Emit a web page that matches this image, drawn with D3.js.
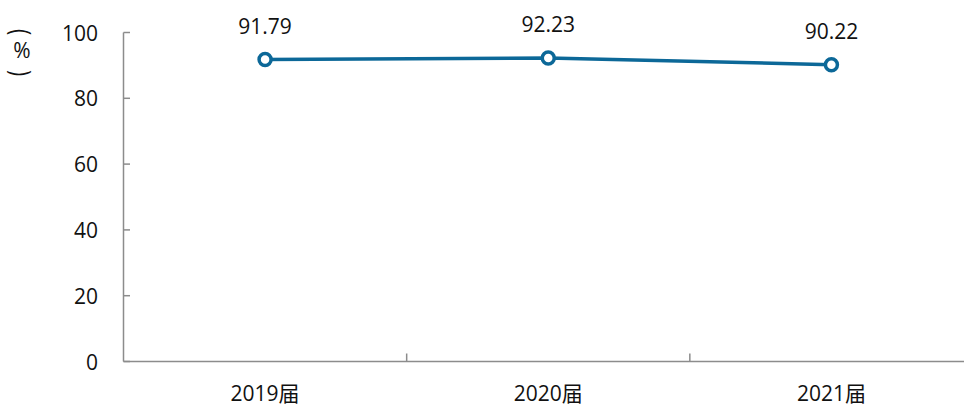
<html>
<head>
<style>
  body { margin: 0; background: #fff; }
  svg { display: block; font-family: "Open Sans", "Noto Sans CJK SC", sans-serif; }
</style>
<script src="https://cdn.jsdelivr.net/npm/d3@7"></script>
</head>
<body>
<svg id="chart"></svg>
<script>
// data
const years = ["2019届", "2020届", "2021届"];
const rates = [91.79, 92.23, 90.22];
const yTicks = [0, 20, 40, 60, 80, 100];

const width = 964, height = 408;
const lineColor = "#0c6898";
const axisColor = "#8c8c8c";
const fs = 21;

const svg = d3.select("#chart").attr("width", width).attr("height", height);

const x = d3.scaleBand().domain(years).range([123.5, 973]);
const y = d3.scaleLinear().domain([0, 100]).range([361.5, 32.5]);

// y axis
svg.append("line")
  .attr("x1", 123.5).attr("x2", 123.5)
  .attr("y1", y(100)).attr("y2", y(0))
  .attr("stroke", axisColor).attr("stroke-width", 1.5);

svg.selectAll(".ytick").data(yTicks).enter().append("line")
  .attr("x1", 123.5).attr("x2", 130)
  .attr("y1", d => y(d)).attr("y2", d => y(d))
  .attr("stroke", axisColor).attr("stroke-width", 1.5);

svg.selectAll(".ylab").data(yTicks).enter().append("text")
  .attr("x", 98).attr("y", d => y(d) + 8)
  .attr("text-anchor", "end")
  .attr("font-size", fs).attr("fill", "#111")
  .text(d => d);

// x axis
svg.append("line")
  .attr("x1", 123.5).attr("x2", width)
  .attr("y1", y(0)).attr("y2", y(0))
  .attr("stroke", axisColor).attr("stroke-width", 1.5);

const boundaries = years.slice(1).map(d => x(d));
svg.selectAll(".xtick").data(boundaries).enter().append("line")
  .attr("x1", d => d).attr("x2", d => d)
  .attr("y1", y(0) - 8).attr("y2", y(0))
  .attr("stroke", axisColor).attr("stroke-width", 1.5);

svg.selectAll(".xlab").data(years).enter().append("text")
  .attr("x", d => x(d) + x.bandwidth() / 2)
  .attr("y", 401)
  .attr("text-anchor", "middle")
  .attr("font-size", fs).attr("fill", "#111")
  .text(d => d);

// unit label, written vertically: parens turned on their side
const unit = svg.append("g").attr("fill", "#111").attr("text-anchor", "middle");
unit.append("text").attr("transform", "translate(22,32) rotate(90) scale(1,1.3)")
  .attr("font-size", fs).attr("dominant-baseline", "central").text("(");
unit.append("text").attr("x", 22).attr("y", 58).attr("font-size", fs).text("%");
unit.append("text").attr("transform", "translate(22,73) rotate(90) scale(1,1.3)")
  .attr("font-size", fs).attr("dominant-baseline", "central").text(")");

// line
const pts = years.map((d, i) => [x(d) + x.bandwidth() / 2, y(rates[i])]);
svg.append("path")
  .attr("d", d3.line()(pts))
  .attr("fill", "none")
  .attr("stroke", lineColor).attr("stroke-width", 3.5);

svg.selectAll(".dot").data(pts).enter().append("circle")
  .attr("cx", d => d[0]).attr("cy", d => d[1]).attr("r", 6)
  .attr("fill", "#fff").attr("stroke", lineColor).attr("stroke-width", 3.5);

svg.selectAll(".val").data(rates).enter().append("text")
  .attr("x", (d, i) => pts[i][0])
  .attr("y", (d, i) => pts[i][1] - 26)
  .attr("text-anchor", "middle")
  .attr("font-size", fs).attr("fill", "#111")
  .text(d => d.toFixed(2));
</script>
</body>
</html>
